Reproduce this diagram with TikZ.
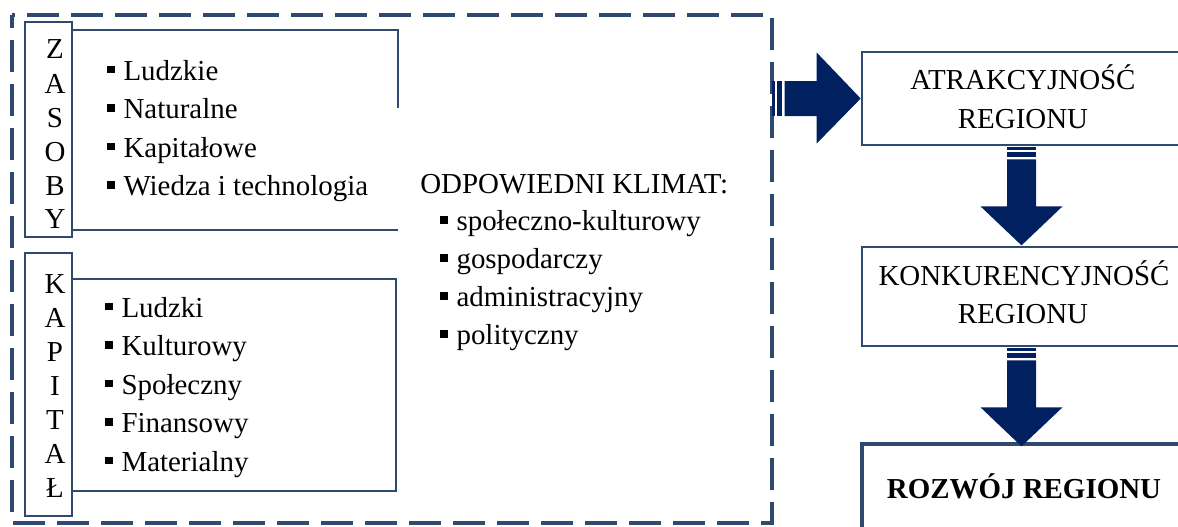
\documentclass[tikz,border=0pt]{standalone}
\usepackage{fontspec}
\setmainfont{Liberation Serif}
\usetikzlibrary{calc}
\definecolor{bord}{HTML}{2E4A70}
\definecolor{navyc}{HTML}{002060}
\newcommand\sqb{\rule[5.2pt]{5.6pt}{5.6pt}\hspace{6.6pt}}
\begin{document}
\begin{tikzpicture}[x=0.75pt,y=-0.75pt,
  boxline/.style={draw=bord,line width=2pt},
  rbox/.style={draw=bord,line width=2pt,fill=white,inner sep=0pt,minimum width=243pt},
  txt/.style={inner sep=0pt,font=\fontsize{21.7}{26}\selectfont},
  letter/.style={txt,anchor=base},
  item/.style={txt,anchor=base west},
  ctr/.style={txt,anchor=base},
  pics/downarr/.style={code={
    \fill[navyc] (-14.5,1) rectangle (14.5,3.5);
    \fill[navyc] (-14.5,6) rectangle (14.5,11);
    \fill[navyc] (-14.5,13) -- (14.5,13) -- (14.5,60) -- (41,60) -- (0,99)
      -- (-41,60) -- (-14.5,60) -- cycle;}},
  pics/rightarr/.style={code={
    \fill[navyc] (-89,-17.5) rectangle (-86,17.5);
    \fill[navyc] (-84,-17.5) rectangle (-79,17.5);
    \fill[navyc] (-76,-17.5) -- (-44,-17.5) -- (-44,-46) -- (0,0) -- (-44,45)
      -- (-44,17.5) -- (-76,17.5) -- cycle;}}]
\useasboundingbox (0,0) rectangle (1178,526);
\fill[white] (0,0) rectangle (1178,526);

% outer dashed frame
\draw[bord,line width=3pt,dash pattern=on 24pt off 9pt,dash phase=14pt]
  (12,15) rectangle (772,523);

% ZASOBY
\draw[boxline] (25,22) rectangle (72,237);
\draw[boxline] (398,108) -- (398,30) -- (72,30);
\draw[boxline] (72,230) -- (398,230);
\foreach \l/\yy [count=\i] in {Z/58,A/93,S/127,O/161,B/195,Y/228}
  \node[letter] (z\i) at (55,\yy) {\l};
\node[item] (zi1) at (107,80) {\sqb Ludzkie};
\node[item] (zi2) at (107,118.5) {\sqb Naturalne};
\node[item] (zi3) at (107,157) {\sqb Kapitałowe};
\node[item] (zi4) at (107,195.5) {\sqb Wiedza i technologia};

% KAPITAŁ
\draw[boxline] (25,253) rectangle (72,516);
\draw[boxline] (72,279) rectangle (396,491);
\foreach \l/\yy [count=\i] in {K/293,A/327,P/361,I/395,T/429,A/463,Ł/497}
  \node[letter] (k\i) at (55,\yy) {\l};
\node[item] (ki1) at (105,317) {\sqb Ludzki};
\node[item] (ki2) at (105,355.5) {\sqb Kulturowy};
\node[item] (ki3) at (105,394) {\sqb Społeczny};
\node[item] (ki4) at (105,432.5) {\sqb Finansowy};
\node[item] (ki5) at (105,471) {\sqb Materialny};

% climate
\node[item] (kl) at (420,193) {ODPOWIEDNI KLIMAT:};
\node[item] (kl1) at (440,230.5) {\sqb społeczno-kulturowy};
\node[item] (kl2) at (440,268.5) {\sqb gospodarczy};
\node[item] (kl3) at (440,306.5) {\sqb administracyjny};
\node[item] (kl4) at (440,344.5) {\sqb polityczny};

% right column boxes
\node[rbox,minimum height=69.75pt] (atr) at (1024,98.5) {};
\node[rbox,minimum height=74.25pt] (kon) at (1024,296.5) {};
\node[rbox,line width=2.8pt,minimum height=87pt] (roz) at (1024,502) {};
\node[ctr] (atrA) at (1023,89) {ATRAKCYJNOŚĆ};
\node[ctr] (atrB) at (1023,128) {REGIONU};
\node[ctr] (konA) at (1024,285) {KONKURENCYJNOŚĆ};
\node[ctr] (konB) at (1023,323.5) {REGIONU};
\node[ctr,font=\fontsize{21.7}{26}\selectfont\bfseries] (rozA) at (1024,498) {ROZWÓJ REGIONU};

% arrows
\pic at (atr.west) {rightarr};
\pic at ($(atr.south)+(-2.5,0)$) {downarr};
\pic at ($(kon.south)+(-2.5,0)$) {downarr};
\end{tikzpicture}
\end{document}
